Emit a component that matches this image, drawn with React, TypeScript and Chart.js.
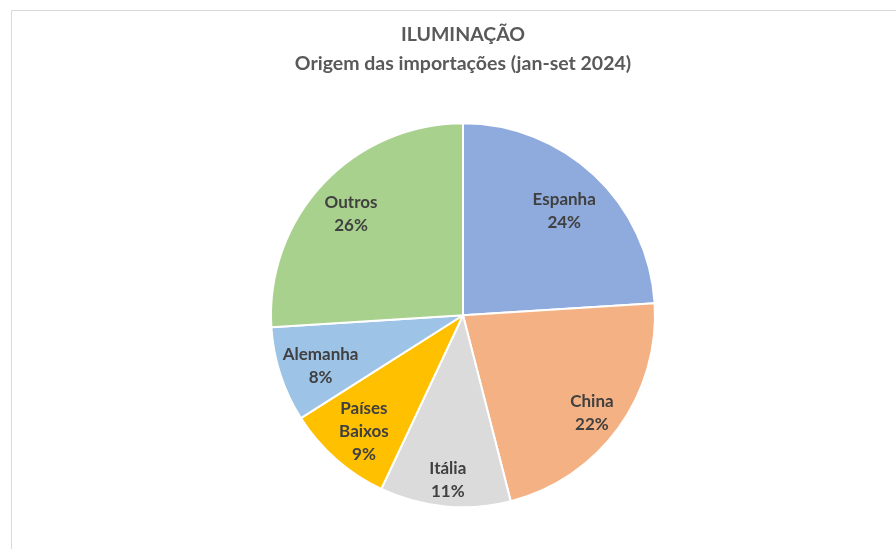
import React, { useEffect, useRef } from "react";
import { Chart, registerables } from "chart.js";

Chart.register(...registerables);

const titleLines = ["ILUMINAÇÃO", "Origem das importações (jan-set 2024)"];
const categories = ["Espanha", "China", "Itália", "Países Baixos", "Alemanha", "Outros"];
const labelLines = [["Espanha"], ["China"], ["Itália"], ["Países", "Baixos"], ["Alemanha"], ["Outros"]];
const shares = [24, 22, 11, 9, 8, 26];
const colors = ["#8FAADC", "#F4B183", "#DBDBDB", "#FFC000", "#9DC3E6", "#A9D18E"];
const labelRadius = [0.77, 0.83, 0.84, 0.78, 0.78, 0.8];

const FONT = "Lato, 'Open Sans', sans-serif";

const framePlugin = {
  id: "frame",
  beforeDraw(chart: any) {
    const ctx = chart.ctx;
    ctx.save();
    ctx.strokeStyle = "#D9D9D9";
    ctx.lineWidth = 1;
    ctx.beginPath();
    ctx.moveTo(11.5, chart.height);
    ctx.lineTo(11.5, 10.5);
    ctx.lineTo(chart.width, 10.5);
    ctx.stroke();
    ctx.restore();
  },
};

const sliceLabels = {
  id: "sliceLabels",
  afterDatasetsDraw(chart: any) {
    const ctx = chart.ctx;
    const meta = chart.getDatasetMeta(0);
    const data = chart.data.datasets[0].data as number[];
    ctx.save();
    ctx.font = `bold 17px ${FONT}`;
    ctx.fillStyle = "#404040";
    ctx.textAlign = "center";
    ctx.textBaseline = "middle";
    meta.data.forEach((arc: any, i: number) => {
      const { x, y, startAngle, endAngle, outerRadius } = arc.getProps(
        ["x", "y", "startAngle", "endAngle", "outerRadius"],
        true
      );
      const mid = (startAngle + endAngle) / 2;
      const r = outerRadius * labelRadius[i];
      const cx = x + Math.cos(mid) * r;
      const cy = y + Math.sin(mid) * r + 4;
      const lines = [...labelLines[i], `${data[i]}%`];
      const lh = 23;
      const top = cy - ((lines.length - 1) * lh) / 2;
      lines.forEach((t, k) => ctx.fillText(t, cx, top + k * lh));
    });
    ctx.restore();
  },
};

export default function App() {
  const ref = useRef<HTMLCanvasElement>(null);
  useEffect(() => {
    if (!ref.current) return;
    const chart = new Chart(ref.current, {
      type: "pie",
      data: {
        labels: categories,
        datasets: [
          {
            data: shares,
            backgroundColor: colors,
            borderColor: "#FFFFFF",
            borderWidth: 2,
          },
        ],
      },
      options: {
        responsive: false,
        animation: false,
        radius: 192,
        layout: { padding: { left: 271, right: 241, top: 0, bottom: 16 } },
        plugins: {
          legend: { display: false },
          tooltip: { enabled: false },
          title: {
            display: true,
            text: titleLines,
            color: "#595959",
            font: { family: FONT, size: 19.5, weight: "bold", lineHeight: 1.45 },
            padding: { top: 21, bottom: 20 },
          },
        },
      } as any,
      plugins: [framePlugin, sliceLabels],
    });
    return () => chart.destroy();
  }, []);
  return (
    <div style={{ position: "fixed", left: 0, top: 0, width: 896, height: 549, background: "#fff" }}>
      <canvas ref={ref} width={896} height={549} style={{ display: "block" }} />
    </div>
  );
}
